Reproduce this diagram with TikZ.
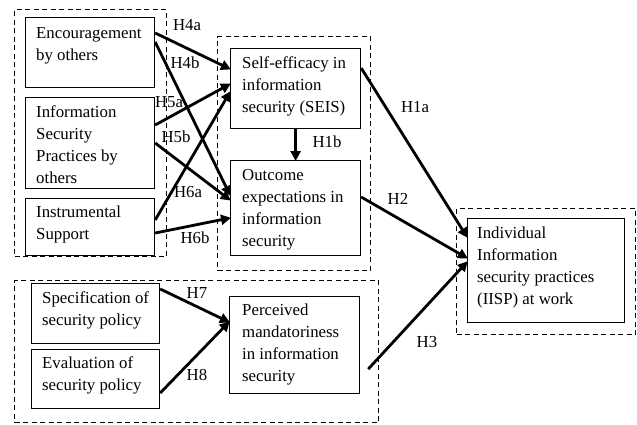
\documentclass[tikz,border=0pt]{standalone}
\usepackage{fontspec}
\setmainfont{Liberation Serif}
\usetikzlibrary{arrows.meta,calc}
\begin{document}
\begin{tikzpicture}[x=1pt,y=-1pt,
  box/.style={draw, line width=1.2pt, inner sep=0pt, anchor=north west},
  grp/.style={draw, line width=1.2pt, dash pattern=on 5pt off 3.5pt, inner sep=0pt, anchor=north west},
  txt/.style={anchor=north west, align=left, inner sep=0pt, font=\fontsize{16.8}{22}\selectfont},
  hyp/.style={inner sep=0pt, font=\fontsize{16.8}{20}\selectfont},
  arr/.style={line width=2.8pt, -{Triangle[length=10pt,width=10pt]}, shorten >=-1pt}
]
\useasboundingbox (0,0) rectangle (637,424);
\newcommand{\fl}{\rule{0pt}{13pt}}
% groups
\node[grp, minimum width=152pt, minimum height=247pt] (g1) at (14,9) {};
\node[grp, minimum width=153pt, minimum height=234pt] (g2) at (217,36) {};
\node[grp, minimum width=364pt, minimum height=142pt] (g3) at (14,280) {};
\node[grp, minimum width=179pt, minimum height=126pt] (g4) at (456,208) {};
% boxes
\node[box, minimum width=129pt, minimum height=70pt] (enc) at (25,17) {};
\node[box, minimum width=129pt, minimum height=91pt] (info) at (25,97) {};
\node[box, minimum width=129pt, minimum height=57pt] (instr) at (25,198) {};
\node[box, minimum width=130pt, minimum height=80pt] (seis) at (230,48) {};
\node[box, minimum width=130pt, minimum height=95pt] (outc) at (230,160) {};
\node[box, minimum width=128pt, minimum height=60pt] (spec) at (31,283) {};
\node[box, minimum width=128pt, minimum height=59pt] (eval) at (31,349) {};
\node[box, minimum width=130pt, minimum height=97pt] (perc) at (229,296) {};
\node[box, minimum width=157pt, minimum height=104pt] (iisp) at (467,218) {};
% texts
\node[txt] (encT) at ($(enc.north west)+(11,8)$) {\fl Encouragement\\by others};
\node[txt] (infoT) at ($(info.north west)+(11,7)$) {\fl Information\\Security\\Practices by\\others};
\node[txt] (instrT) at ($(instr.north west)+(11,6)$) {\fl Instrumental\\Support};
\node[txt] (seisT) at ($(seis.north west)+(12,7)$) {\fl Self-efficacy in\\information\\security (SEIS)};
\node[txt] (outcT) at ($(outc.north west)+(12,7)$) {\fl Outcome\\expectations in\\information\\security};
\node[txt] (specT) at ($(spec.north west)+(11,7)$) {\fl Specification of\\security policy};
\node[txt] (evalT) at ($(eval.north west)+(11,6)$) {\fl Evaluation of\\security policy};
\node[txt] (percT) at ($(perc.north west)+(13,6)$) {\fl Perceived\\mandatoriness\\in information\\security};
\node[txt] (iispT) at ($(iisp.north west)+(10,7)$) {\fl Individual\\Information\\security practices\\(IISP) at work};
% connectors
\coordinate (h3s) at ($(g3.east)+(-11,17.5)$);
\draw[arr] ($(enc.north east)+(0,16)$) -- ($(seis.north west)+(0,21)$);
\draw[arr] ($(enc.north east)+(0,25)$) -- ($(outc.north west)+(0,35)$);
\draw[arr] ($(info.north east)+(0,28)$) -- ($(seis.north west)+(0,36)$);
\draw[arr] ($(info.north east)+(0,46)$) -- ($(outc.north west)+(0,40)$);
\draw[arr] ($(instr.north east)+(0,22)$) -- ($(seis.north west)+(0,44)$);
\draw[arr] ($(instr.north east)+(0,35)$) -- ($(outc.north west)+(0,58)$);
\draw[arr] (seis.south) -- (outc.north);
\draw[arr] ($(seis.north east)+(0,20)$) -- ($(iisp.north west)+(0,19)$);
\draw[arr] ($(outc.north east)+(0,37)$) -- ($(iisp.north west)+(0,40)$);
\draw[arr] (h3s) -- ($(iisp.north west)+(0,44)$);
\draw[arr] ($(spec.north east)+(0,6)$) -- ($(perc.north west)+(0,26)$);
\draw[arr] ($(eval.north east)+(0,44)$) -- ($(perc.north west)+(0,26)$);
% hypothesis labels
\node[hyp] (l4a) at (187,25) {H4a};
\node[hyp] (l4b) at (185,63) {H4b};
\node[hyp] (l5a) at (169,102) {H5a};
\node[hyp] (l5b) at (176,137) {H5b};
\node[hyp] (l6a) at (188,192) {H6a};
\node[hyp] (l6b) at (195,238) {H6b};
\node[hyp] (l1a) at (415,107) {H1a};
\node[hyp] (l1b) at (327,142) {H1b};
\node[hyp] (l2) at (398,199) {H2};
\node[hyp] (l3) at (427,342) {H3};
\node[hyp] (l7) at (197,293) {H7};
\node[hyp] (l8) at (197,375) {H8};
\end{tikzpicture}
\end{document}
